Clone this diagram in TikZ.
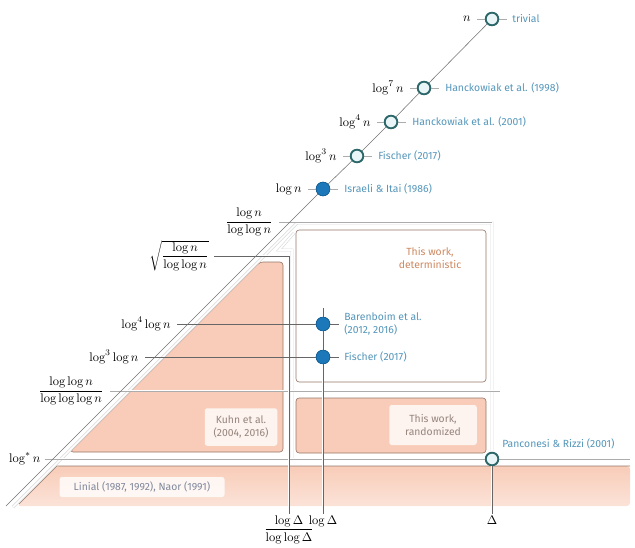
\documentclass[tikz,border=0pt]{standalone}
\usepackage{amsmath}
\usepackage{fontspec}
\setsansfont{Fira Sans}
\definecolor{salmon}{RGB}{248,204,184}
\definecolor{boxline}{RGB}{150,118,104}
\definecolor{detorange}{RGB}{206,136,96}
\definecolor{labblue}{RGB}{84,150,186}
\definecolor{circdark}{RGB}{44,104,106}
\definecolor{circfill}{RGB}{234,245,248}
\definecolor{blueA}{RGB}{28,120,184}
\definecolor{blueB}{RGB}{20,96,150}
\definecolor{boxtext}{RGB}{150,132,124}
\definecolor{lintext}{RGB}{128,136,156}
\begin{document}
\begin{tikzpicture}[x=0.8pt,y=-0.8pt,
  sfl/.style={font=\sffamily\fontsize{8.3}{10}\selectfont},
  lab/.style={sfl, text=labblue, anchor=west, inner sep=0pt},
  mlab/.style={anchor=east, inner sep=1pt},
  blab/.style={anchor=north, inner sep=1pt},
  ocirc/.style={circle, draw=circdark, fill=circfill, line width=1.4pt, minimum size=10pt, inner sep=0pt},
  fcirc/.style={circle, draw=blueB, fill=blueA, line width=0.5pt, minimum size=11pt, inner sep=0pt},
  guide/.style={draw=gray!65, line width=0.4pt},
  dguide/.style={draw=black!60, line width=0.45pt},
  halo/.style={preaction={draw=white, line width=2.2pt}},
  region/.style={draw=gray!30, double=white, double distance=1.3pt, line width=0.5pt},
  regfill/.style={fill=salmon, draw=boxline, line width=0.5pt, rounded corners=2.5pt},
  tag/.style={sfl, fill=white, fill opacity=0.8, text opacity=1, rounded corners=2pt, align=center, inner sep=0pt}
]
\useasboundingbox (0,0) rectangle (635,548);

% ---------- filled regions ----------
\shade[top color=salmon, bottom color=salmon!55, rounded corners=2.5pt]
  (57,466) -- (630,466) -- (630,506) -- (17,506) -- cycle;
\draw[boxline, line width=0.5pt] (630,466) -- (57,466) -- (19,504);
\draw[regfill] (260,262) -- (283,262) -- (283,452) -- (70,452) -- cycle;
\draw[fill=white, draw=boxline, line width=0.5pt, rounded corners=2.5pt] (296,230) rectangle (486,382);
\draw[regfill] (296,398) rectangle (486,453);

% ---------- region boundaries ----------
\draw[region] (13,507) -- (297,223) -- (492,223) -- (492,452);
\draw[region] (292,460) -- (292,250) -- (279,250) -- (294,233);
\draw[region] (62,462) -- (630,462);

% ---------- labels (math) ----------
\node[mlab] (lN) at (472,19) {$n$};
\node[mlab] (l7) at (405,88) {$\log^7 n$};
\node[mlab] (l4) at (372,122) {$\log^4 n$};
\node[mlab] (l3) at (338,156) {$\log^3 n$};
\node[mlab] (l1) at (303,189) {$\log n$};
\node[mlab] (lf1) at (274,222) {$\dfrac{\log n}{\log\log n}$};
\node[mlab] (lsq) at (210,256) {$\sqrt{\dfrac{\log n}{\log\log n}}$};
\node[mlab] (l4l) at (172,324) {$\log^4\log n$};
\node[mlab] (l3l) at (140,357) {$\log^3\log n$};
\node[mlab] (lf2) at (105,391) {$\dfrac{\log\log n}{\log\log\log n}$};
\node[mlab] (lst) at (42,459) {$\log^* n$};
\node[blab] (xa) at (289,514) {$\dfrac{\log\Delta}{\log\log\Delta}$};
\node[blab] (xb) at (323,514) {$\log\Delta$};
\node[blab] (xc) at (492,514) {$\Delta$};

% ---------- circles ----------
\node[ocirc] (c0) at (492,19) {};
\node[ocirc] (c7) at (424,88) {};
\node[ocirc] (c4) at (391,122) {};
\node[ocirc] (c3) at (357,156) {};
\node[fcirc] (c1) at (323,189) {};
\node[fcirc] (cb) at (323,324) {};
\node[fcirc] (cf) at (323,357) {};
\node[ocirc] (cp) at (492,459) {};

\coordinate (r1) at (492,222);
\coordinate (r2) at (289,256);
\coordinate (r3) at (500,391);
\coordinate (r4) at (630,459);
\coordinate (dlow) at (6,506);
\coordinate (vtop) at (323,308);

% ---------- guide lines ----------
\draw[guide, halo] ([xshift=4pt]lf1.east) -- (r1);
\draw[guide, halo] ([xshift=4pt]lf2.east) -- (r3);
\draw[guide, halo] ([xshift=2pt]lst.east) -- (r4);
\draw[dguide, halo] ([xshift=3pt]lsq.east) -- (r2) -- (xa.north);
\draw[dguide, halo] (vtop) -- (xb.north);
\draw[dguide, halo] (cp) -- (xc.north);
\draw[dguide] ([xshift=4pt]l4l.east) -- ([xshift=13pt]cb.center);
\draw[dguide] ([xshift=4pt]l3l.east) -- ([xshift=13pt]cf.center);
\draw[guide] ([xshift=4pt]lN.east) -- ([xshift=12pt]c0.center);
\draw[guide] ([xshift=4pt]l7.east) -- ([xshift=12pt]c7.center);
\draw[guide] ([xshift=4pt]l4.east) -- ([xshift=12pt]c4.center);
\draw[guide] ([xshift=4pt]l3.east) -- ([xshift=12pt]c3.center);
\draw[guide] ([xshift=4pt]l1.east) -- ([xshift=12pt]c1.center);

% diagonal
\draw[black!55, line width=0.45pt] (dlow) -- (c1) -- (c3) -- (c4) -- (c7) -- (c0);

% redraw circles on top
\node[ocirc] at (c0) {};
\node[ocirc] at (c7) {};
\node[ocirc] at (c4) {};
\node[ocirc] at (c3) {};
\node[fcirc] at (c1) {};
\node[fcirc] at (cb) {};
\node[fcirc] at (cf) {};
\node[ocirc] at (cp) {};

% ---------- text labels ----------
\node[lab] (t0) at (512,19) {trivial};
\node[lab] (t7) at (445,88) {Hanckowiak et al. (1998)};
\node[lab] (t4) at (412,122) {Hanckowiak et al. (2001)};
\node[lab] (t3) at (378,156) {Fischer (2017)};
\node[lab] (t1) at (344,189) {Israeli \& Itai (1986)};
\node[lab, align=left] (tb) at (344,324) {Barenboim et al.\\(2012, 2016)};
\node[lab] (tf) at (344,357) {Fischer (2017)};
\node[lab] (tp) at (502,444) {Panconesi \& Rizzi (2001)};

\node[sfl, text=detorange, align=center] (tdet) at (430,258) {This work,\\deterministic};
\node[tag, text=boxtext, minimum width=70pt, minimum height=32pt] (trand) at (433,425) {This work,\\randomized};
\node[tag, text=boxtext, minimum width=58pt, minimum height=30pt] (tkuhn) at (241,427) {Kuhn et al.\\(2004, 2016)};
\node[tag, text=lintext, minimum width=132pt, minimum height=16pt] (tlin) at (142,487) {Linial (1987, 1992), Naor (1991)};
\end{tikzpicture}
\end{document}
